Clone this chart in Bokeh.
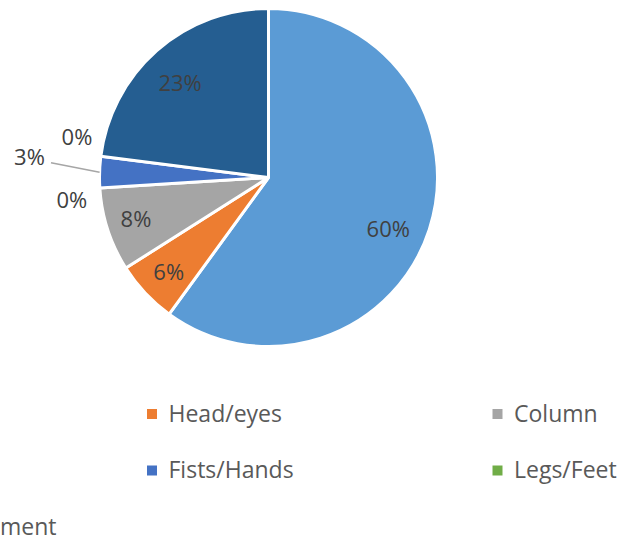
import numpy as np
from bokeh.plotting import figure
from bokeh.models import Range1d, ColumnDataSource
from bokeh.core.properties import value
from bokeh.embed import file_html
from bokeh.resources import INLINE

# ---- data ----
categories = ["(cut off)", "Head/eyes", "Column", "(cut off)", "Fists/Hands", "Legs/Feet", "ment"]
percent = [60, 6, 8, 0, 3, 0, 23]
colors = ["#5B9BD5", "#ED7D31", "#A5A5A5", "#FFC000", "#4472C4", "#70AD47", "#255E91"]
legend_visible = [False, True, True, False, True, True, True]

# ---- style / layout ----
W, H = 626, 540
CX, CY, R = 268, -177, 169
label_rfac = [0.77, 0.81, 0.82, 1.17, 1.42, 1.16, 0.77]
label_nudge_deg = [-5, 0, -1, 2.5, -3.4, -5.1, 1.4]
FONT = "Open Sans"

p = figure(width=W, height=H, output_backend="svg", toolbar_location=None,
           x_range=Range1d(0, W), y_range=Range1d(-H, 0),
           min_border=0, outline_line_color=None)
p.axis.visible = False
p.grid.visible = False
p.background_fill_color = "white"
p.border_fill_color = "white"

vals = np.array(percent, dtype=float)
frac = vals / vals.sum()
cum = np.cumsum(frac)
start_cw = cum - frac
end_cw = cum
a_start = np.pi / 2 - 2 * np.pi * end_cw
a_end = np.pi / 2 - 2 * np.pi * start_cw
mid = (a_start + a_end) / 2

nz = vals > 0
src = ColumnDataSource(dict(x=[CX] * int(nz.sum()), y=[CY] * int(nz.sum()),
                            s=a_start[nz], e=a_end[nz],
                            c=[c for c, k in zip(colors, nz) if k]))
p.wedge(x="x", y="y", radius=R, start_angle="s", end_angle="e",
        direction="anticlock", fill_color="c", line_color="white",
        line_width=3, source=src)

# leader line for the small slice with outside label (3%)
i3 = 4
p.segment(x0=[CX + R * np.cos(mid[i3])], y0=[CY + R * np.sin(mid[i3])],
          x1=[CX + 1.29 * R * np.cos(mid[i3] - np.radians(2.1))],
          y1=[CY + 1.29 * R * np.sin(mid[i3] - np.radians(2.1))],
          line_color="#A6A6A6", line_width=1.5)

# data labels
ang = mid + np.radians(label_nudge_deg)
lx = CX + np.array(label_rfac) * R * np.cos(ang)
ly = CY + np.array(label_rfac) * R * np.sin(ang)
p.text(x=lx, y=ly, text=[f"{v}%" for v in percent],
       text_font=value(FONT), text_font_size="22px", text_color="#404040",
       text_align="center", text_baseline="middle")

# legend (first column is cut off at the left edge in the reference)
col_x = [-194, 151.5, 497]
row_y = [-412, -468.5, -525]
mk_x, mk_y, mk_c = [], [], []
tx, ty, tt, ta = [], [], [], []
for i, name in enumerate(categories):
    if not legend_visible[i]:
        continue
    r, c = divmod(i, 3)
    if c == 0:
        # only the tail of this label is visible at the left edge
        tx.append(56); ty.append(row_y[r]); tt.append(name); ta.append("right")
        continue
    mk_x.append(col_x[c]); mk_y.append(row_y[r] - 1.5); mk_c.append(colors[i])
    tx.append(col_x[c] + 16.5); ty.append(row_y[r]); tt.append(name); ta.append("left")

p.rect(x=mk_x, y=mk_y, width=10, height=10, fill_color=mk_c, line_color=None)
p.text(x=tx, y=ty, text=tt, text_font=value(FONT), text_font_size="23px",
       text_color="#595959", text_align=ta, text_baseline="middle")

open("out.html", "w").write(file_html(p, INLINE))
